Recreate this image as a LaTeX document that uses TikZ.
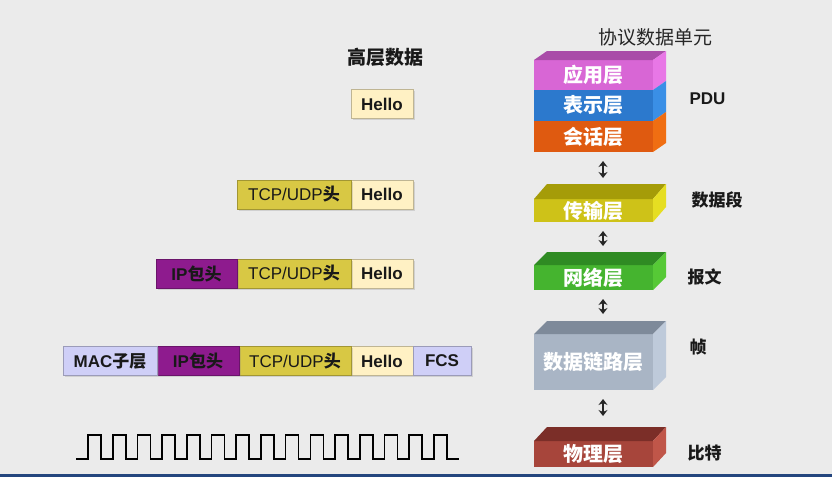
\documentclass[tikz,border=0pt]{standalone}
\usepackage{fontspec}
\setmainfont{Liberation Sans}
\newfontfamily\cjk{Noto Sans CJK SC}
\usetikzlibrary{positioning,calc,arrows.meta,shadows}

% colours of the page
\definecolor{pageGray}{HTML}{EBEBEB}
\definecolor{barBlue}{HTML}{24467E}
% colours of the packet blocks
\definecolor{macLav}{HTML}{CFCFF7}
\definecolor{ipPurple}{HTML}{8E1B8E}
\definecolor{tcpYellow}{HTML}{D8C844}
\definecolor{helloCream}{HTML}{FFF1C4}
% colours of the layer boxes (front, top, side)
\definecolor{appF}{HTML}{D866D5}\definecolor{appT}{HTML}{A94CA8}\definecolor{appS}{HTML}{E877E6}
\definecolor{preF}{HTML}{2C79CD}\definecolor{preS}{HTML}{3A8FE6}
\definecolor{sesF}{HTML}{DF5A10}\definecolor{sesS}{HTML}{F06E12}
\definecolor{trnF}{HTML}{CEC218}\definecolor{trnT}{HTML}{A59C08}\definecolor{trnS}{HTML}{E6DE22}
\definecolor{netF}{HTML}{45B42F}\definecolor{netT}{HTML}{2F8B23}\definecolor{netS}{HTML}{56C936}
\definecolor{dlF}{HTML}{A9B5C5}\definecolor{dlT}{HTML}{7E8A9A}\definecolor{dlS}{HTML}{BECADA}
\definecolor{phyF}{HTML}{A7453B}\definecolor{phyT}{HTML}{7B2E28}\definecolor{phyS}{HTML}{C05649}

\tikzset{
  pkt/.style={fill=#1, draw=#1!75!black, line width=0.4pt, minimum height=29pt,
    inner sep=0pt, outer sep=0pt, text=black!90,
    font=\fontsize{17}{17}\selectfont\bfseries,
    drop shadow={shadow xshift=1.5pt, shadow yshift=-1.5pt, opacity=0.25}},
  layer/.style={fill=#1, minimum width=119pt, inner sep=0pt, outer sep=0pt,
    anchor=north west, text=white, font=\cjk\fontsize{20}{20}\selectfont\bfseries},
  unitlabel/.style={anchor=west, text=black!90, font=\fontsize{17}{17}\selectfont\bfseries},
  updown/.style={{Stealth[length=6pt,width=9pt,inset=2pt]}-{Stealth[length=6pt,width=9pt,inset=2pt]},
    line width=2pt, black!85},
  wave/.style={line width=1.6pt, black, line join=miter}
}

\begin{document}
\begin{tikzpicture}[x=1pt, y=-1pt]
    % Page background and bottom bar
    \fill[pageGray] (0,0) rectangle (832,477);
    \fill[barBlue] (0,474) rectangle (832,477);

    % Titles
    \node[font=\cjk\fontsize{19}{19}\selectfont\bfseries, text=black!90] (hltitle) at (385,57) {高层数据};
    \node[font=\cjk\fontsize{19}{19}\selectfont, text=black!85] (pdutitle) at (655,37) {协议数据单元};

    % Layer boxes (front faces)
    \node[layer=appF, minimum height=30pt] (app) at (534,60) {应用层};
    \node[layer=preF, minimum height=31pt] (pre) at (534,90) {表示层};
    \node[layer=sesF, minimum height=31pt] (ses) at (534,121) {会话层};
    \node[layer=trnF, minimum height=23pt] (trn) at (534,199) {传输层};
    \node[layer=netF, minimum height=25pt] (net) at (534,265) {网络层};
    \node[layer=dlF, minimum height=56pt] (dl) at (534,334) {数据链路层};
    \node[layer=phyF, minimum height=26pt] (phy) at (534,441) {物理层};

    % Top and side faces
    \fill[appT] (app.north west) -- ++(13,-9) -- ++(119,0) -- (app.north east) -- cycle;
    \fill[appS] (app.north east) -- ++(13,-9) -- ($(app.south east)+(13,-9)$) -- (app.south east) -- cycle;
    \fill[preS] (pre.north east) -- ++(13,-9) -- ($(pre.south east)+(13,-9)$) -- (pre.south east) -- cycle;
    \fill[sesS] (ses.north east) -- ++(13,-9) -- ($(ses.south east)+(13,-9)$) -- (ses.south east) -- cycle;
    \fill[trnT] (trn.north west) -- ++(13,-15) -- ++(119,0) -- (trn.north east) -- cycle;
    \fill[trnS] (trn.north east) -- ++(13,-15) -- ($(trn.south east)+(13,-15)$) -- (trn.south east) -- cycle;
    \fill[netT] (net.north west) -- ++(13,-13) -- ++(119,0) -- (net.north east) -- cycle;
    \fill[netS] (net.north east) -- ++(13,-13) -- ($(net.south east)+(13,-13)$) -- (net.south east) -- cycle;
    \fill[dlT] (dl.north west) -- ++(13,-13) -- ++(119,0) -- (dl.north east) -- cycle;
    \fill[dlS] (dl.north east) -- ++(13,-13) -- ($(dl.south east)+(13,-13)$) -- (dl.south east) -- cycle;
    \fill[phyT] (phy.north west) -- ++(13,-14) -- ++(119,0) -- (phy.north east) -- cycle;
    \fill[phyS] (phy.north east) -- ++(13,-14) -- ($(phy.south east)+(13,-14)$) -- (phy.south east) -- cycle;

    % Arrows between layers
    \draw[updown] ($(ses.south)+(9.5,9)$) -- ($(trn.north)+(9.5,-21)$);
    \draw[updown] ($(trn.south)+(9.5,9)$) -- ($(net.north)+(9.5,-19)$);
    \draw[updown] ($(net.south)+(9.5,9)$) -- ($(dl.north)+(9.5,-20)$);
    \draw[updown] ($(dl.south)+(9.5,9)$) -- ($(phy.north)+(9.5,-25)$);

    % Data unit names
    \node[unitlabel] (pdu) at (686,99) {PDU};
    \node[unitlabel, font=\cjk\fontsize{17}{17}\selectfont\bfseries] (seg) at (688,200) {数据段};
    \node[unitlabel, font=\cjk\fontsize{17}{17}\selectfont\bfseries] (pkt) at (684,277) {报文};
    \node[unitlabel, font=\cjk\fontsize{17}{17}\selectfont\bfseries] (frm) at (686,347) {帧};
    \node[unitlabel, font=\cjk\fontsize{17}{17}\selectfont\bfseries] (bit) at (684,453) {比特};

    % Packet rows
    \node[pkt=helloCream, minimum width=62pt] (hello1) at (382,104) {Hello};

    \node[pkt=helloCream, minimum width=62pt] (hello2) at (382,194.5) {Hello};
    \node[pkt=tcpYellow, minimum width=114pt, left=0pt of hello2] (tcp2) {{\mdseries TCP/UDP}{\cjk 头}};

    \node[pkt=helloCream, minimum width=62pt] (hello3) at (382,273.5) {Hello};
    \node[pkt=tcpYellow, minimum width=114pt, left=0pt of hello3] (tcp3) {{\mdseries TCP/UDP}{\cjk 头}};
    \node[pkt=ipPurple, minimum width=81pt, left=0pt of tcp3] (ip3) {IP{\cjk 包头}};

    \node[pkt=helloCream, minimum width=62pt] (hello4) at (382,361) {Hello};
    \node[pkt=macLav, minimum width=58pt, right=0pt of hello4] (fcs4) {FCS};
    \node[pkt=tcpYellow, minimum width=112pt, left=0pt of hello4] (tcp4) {{\mdseries TCP/UDP}{\cjk 头}};
    \node[pkt=ipPurple, minimum width=82pt, left=0pt of tcp4] (ip4) {IP{\cjk 包头}};
    \node[pkt=macLav, minimum width=94pt, left=0pt of ip4] (mac4) {MAC{\cjk 子层}};

    % Bit stream
    \draw[wave] (76,459) -- (88,459)
      \foreach \k in {0,...,14}{ -- ++(0,-24) -- ++(13,0) -- ++(0,24) -- ++(11.7,0) };
\end{tikzpicture}
\end{document}
